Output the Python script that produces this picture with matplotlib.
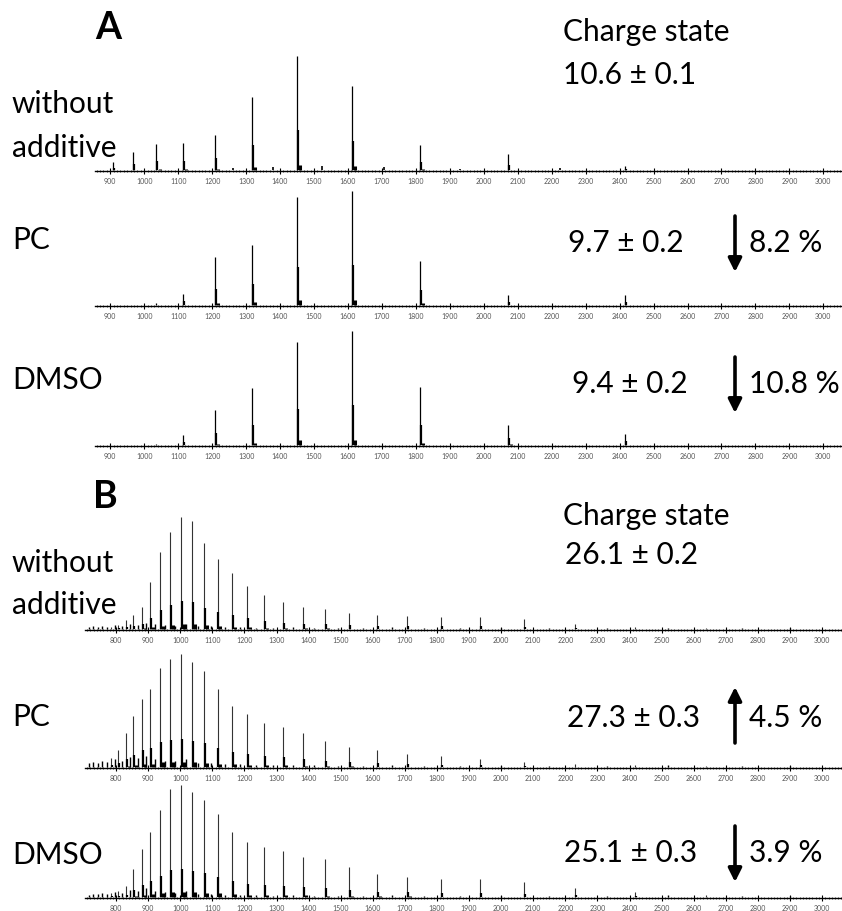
import matplotlib
matplotlib.use("Agg")
import matplotlib.pyplot as plt
from matplotlib.ticker import MultipleLocator

W, H = 842, 912
plt.rcParams['font.family'] = ['Lato', 'DejaVu Sans']

# ---------------- data ----------------
# Panel A (charge-state series of the ~14.5 kDa protein)
A_mz = [907, 967, 1036, 1115, 1208, 1318, 1450, 1611, 1812, 2071, 2416]
A1_int = [0.07, 0.16, 0.23, 0.24, 0.31, 0.64, 1.00, 0.74, 0.22, 0.14, 0.04]
A2_int = [0.00, 0.00, 0.02, 0.10, 0.42, 0.53, 0.95, 1.00, 0.39, 0.09, 0.09]
A3_int = [0.00, 0.00, 0.01, 0.09, 0.31, 0.50, 0.90, 1.00, 0.51, 0.18, 0.10]
A_minor_mz = [1262, 1380, 1525, 1705, 1930, 2225]
A1_minor = [0.02, 0.03, 0.035, 0.03, 0.015, 0.02]
A2_minor = [0.0, 0.0, 0.0, 0.0, 0.0, 0.0]
A3_minor = [0.0, 0.0, 0.0, 0.0, 0.0, 0.0]

# Panel B (charge-state series of the ~29 kDa protein)
B_mz = [785, 807, 830, 854, 880, 907, 936, 968, 1001, 1037, 1075, 1116, 1161,
        1209, 1262, 1319, 1382, 1451, 1527, 1612, 1707, 1813, 1934, 2072,
        2231, 2417, 2637]
B1_int = [0.02, 0.04, 0.08, 0.13, 0.20, 0.42, 0.69, 0.87, 1.00, 0.96, 0.77,
          0.63, 0.50, 0.39, 0.31, 0.24, 0.20, 0.18, 0.15, 0.13, 0.12, 0.11,
          0.11, 0.09, 0.05, 0.02, 0.01]
B2_int = [0.08, 0.15, 0.30, 0.45, 0.60, 0.69, 0.88, 0.96, 1.00, 0.93, 0.85,
          0.69, 0.54, 0.47, 0.39, 0.36, 0.30, 0.23, 0.18, 0.15, 0.12, 0.10,
          0.07, 0.05, 0.03, 0.02, 0.01]
B3_int = [0.04, 0.06, 0.10, 0.25, 0.43, 0.58, 0.78, 0.96, 1.00, 0.94, 0.87,
          0.74, 0.58, 0.49, 0.45, 0.41, 0.36, 0.34, 0.27, 0.21, 0.18, 0.16,
          0.16, 0.14, 0.08, 0.05, 0.02]
B_noise_mz = [715, 728, 742, 756, 770, 795, 818, 842, 867, 893, 921, 952, 985,
              1019, 1056, 1095, 1138, 1185, 1236, 1290, 1350, 1416, 1490, 1570,
              1660, 1760, 1872, 2000, 2150, 2330, 2520, 2750, 2900]
B1_noise = [0.02, 0.03, 0.02, 0.03, 0.02, 0.04, 0.03, 0.05, 0.04, 0.06, 0.05,
            0.04, 0.03, 0.05, 0.03, 0.03, 0.02, 0.02, 0.01, 0.01, 0.02, 0.01,
            0.01, 0.01, 0.02, 0.01, 0.01, 0.01, 0.01, 0.01, 0.01, 0.01, 0.01]
B2_noise = [0.04, 0.05, 0.04, 0.06, 0.05, 0.07, 0.06, 0.09, 0.08, 0.10, 0.07,
            0.06, 0.06, 0.07, 0.04, 0.04, 0.03, 0.03, 0.02, 0.02, 0.02, 0.02,
            0.01, 0.01, 0.02, 0.01, 0.01, 0.01, 0.01, 0.01, 0.02, 0.01, 0.01]
B3_noise = [0.02, 0.03, 0.03, 0.04, 0.03, 0.05, 0.04, 0.07, 0.06, 0.08, 0.06,
            0.05, 0.04, 0.06, 0.03, 0.03, 0.02, 0.02, 0.02, 0.01, 0.02, 0.01,
            0.01, 0.01, 0.02, 0.01, 0.01, 0.01, 0.01, 0.01, 0.02, 0.01, 0.01]

row_labels = [["without", "additive"], ["PC"], ["DMSO"]]
A_charge = ["10.6 \u00b1 0.1", "9.7 \u00b1 0.2", "9.4 \u00b1 0.2"]
A_change = [None, ("down", "8.2 %"), ("down", "10.8 %")]
B_charge = ["26.1 \u00b1 0.2", "27.3 \u00b1 0.3", "25.1 \u00b1 0.3"]
B_change = [None, ("up", "4.5 %"), ("down", "3.9 %")]

A_xlim = (855, 3055)
B_xlim = (703, 3062)

# ---------------- layout (pixels) ----------------
fig = plt.figure(figsize=(W / 100, H / 100), dpi=100)


def add_ax(left, right, base, top):
    return fig.add_axes([left / W, 1 - base / H, (right - left) / W, (base - top) / H])


def style_ax(ax, xlim):
    ax.set_xlim(*xlim)
    ax.set_ylim(-0.005, 1.0)
    for s in ("top", "right", "left"):
        ax.spines[s].set_visible(False)
    ax.spines["bottom"].set_linewidth(1.0)
    ax.set_yticks([])
    ax.xaxis.set_major_locator(MultipleLocator(100))
    ax.xaxis.set_minor_locator(MultipleLocator(10))
    ax.tick_params(axis="x", which="major", direction="inout", length=4,
                   width=0.8, labelsize=5, labelcolor="#555555", pad=2.0)
    ax.tick_params(axis="x", which="minor", direction="inout", length=2, width=0.5)
    ax.patch.set_alpha(0)


def draw_peaks(ax, mz, inten, foot=0.3, lw=0.8, color="black"):
    ax.vlines(mz, 0, inten, colors=color, linewidth=lw)
    ax.vlines([m + 3 for m in mz], 0, [h * foot for h in inten], colors="black", linewidth=1.6)
    ax.vlines([m + 9 for m in mz], 0, [h * 0.05 for h in inten], colors="black", linewidth=2.2)


A_rows = [(172, 57), (307, 192), (447, 332)]
B_rows = [(631, 518), (769, 655), (899, 786)]
A_ints = [A1_int, A2_int, A3_int]
A_minors = [A1_minor, A2_minor, A3_minor]
B_ints = [B1_int, B2_int, B3_int]
B_noises = [B1_noise, B2_noise, B3_noise]

for (base, top), inten, minor in zip(A_rows, A_ints, A_minors):
    ax = add_ax(95, 842, base, top)
    style_ax(ax, A_xlim)
    draw_peaks(ax, A_mz, inten, foot=0.35, lw=0.9)
    ax.vlines(A_minor_mz, 0, minor, colors="black", linewidth=1.2)

for (base, top), inten, noise in zip(B_rows, B_ints, B_noises):
    ax = add_ax(85, 842, base, top)
    style_ax(ax, B_xlim)
    draw_peaks(ax, B_mz, inten, foot=0.25, lw=0.8, color="#333333")
    ax.vlines(B_noise_mz, 0, noise, colors="black", linewidth=1.0)


# ---------------- text ----------------
def ftext(x, y, s, **kw):
    fig.text(x / W, 1 - y / H, s, **kw)


FS = 21.5
ftext(95, 28, "A", fontsize=27, fontweight="bold", va="center", ha="left")
ftext(93, 497, "B", fontsize=27, fontweight="bold", va="center", ha="left")

# left row labels (one entry per text line)
A_label_y = [[104, 148], [240], [380]]
B_label_y = [[563, 605], [717], [855]]
for ys_all in (A_label_y, B_label_y):
    for ys, lines in zip(ys_all, row_labels):
        for y, lab in zip(ys, lines):
            ftext(12, y, lab, fontsize=FS, va="center", ha="left")

# charge state annotations
ftext(563, 32, "Charge state", fontsize=FS, va="center", ha="left")
ftext(563, 75, A_charge[0], fontsize=FS, va="center", ha="left")
ftext(563, 516, "Charge state", fontsize=FS, va="center", ha="left")
ftext(565, 555, B_charge[0], fontsize=FS, va="center", ha="left")

arrow_x = 735
A_text_pos = [None, (684, 243), (688, 384)]
B_text_pos = [None, (700, 718), (697, 853)]
for texts, changes, pos in ((A_charge, A_change, A_text_pos), (B_charge, B_change, B_text_pos)):
    for i in (1, 2):
        xr, y = pos[i]
        ftext(xr, y, texts[i], fontsize=FS, va="center", ha="right")
        direction, pct = changes[i]
        if direction == "down":
            y0, y1 = y - 26, y + 30
        else:
            y0, y1 = y + 26, y - 30
        fig.add_artist(matplotlib.patches.FancyArrowPatch(
            (arrow_x / W, 1 - y0 / H), (arrow_x / W, 1 - y1 / H),
            transform=fig.transFigure, arrowstyle="-|>,head_width=4,head_length=8",
            mutation_scale=1, linewidth=2.6, color="black", shrinkA=0, shrinkB=0))
        ftext(749, y, pct, fontsize=FS, va="center", ha="left")

fig.savefig("out.png", dpi=100)
